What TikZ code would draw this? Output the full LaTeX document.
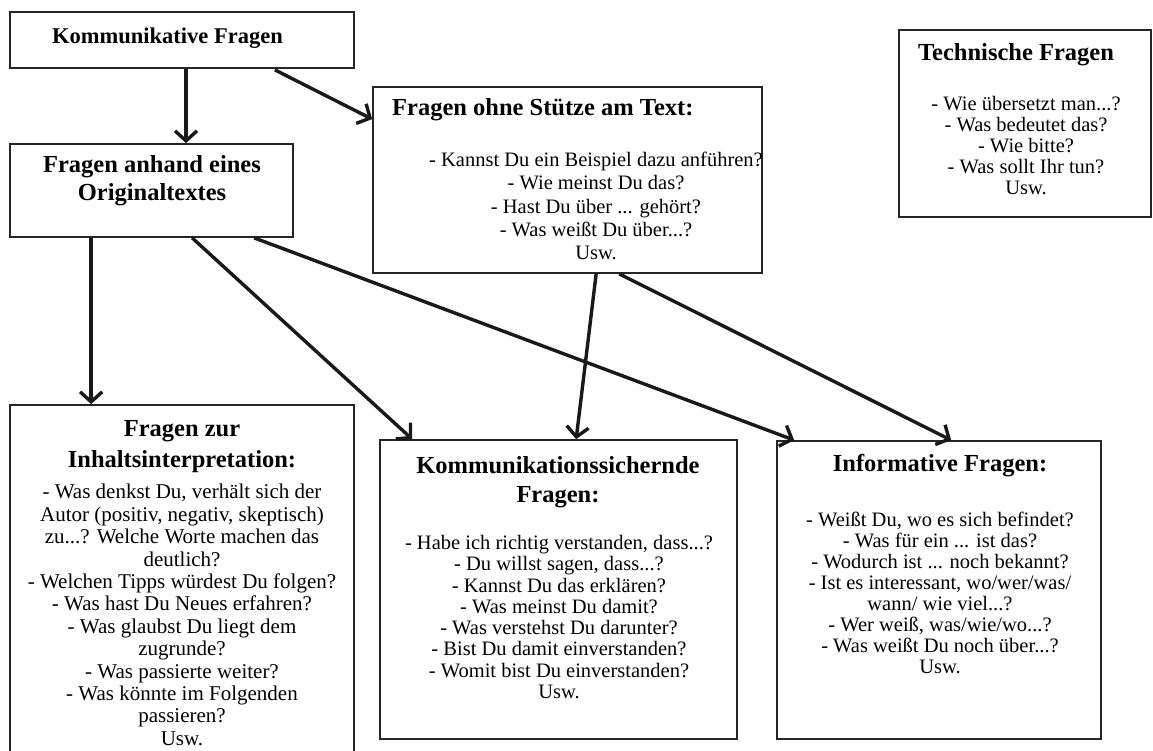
\documentclass[tikz,border=0pt]{standalone}
\usepackage{fontspec}
\setmainfont{Liberation Serif}
\usetikzlibrary{arrows.meta,calc}

\begin{document}
\begin{tikzpicture}[x=1pt,y=-1pt,
    box/.style={draw=black!85, line width=1.7pt, rectangle, inner sep=0pt},
    head/.style={font=\fontsize{24.5}{28}\selectfont\bfseries, align=center, inner sep=0pt},
    body/.style={font=\fontsize{20.5}{21.3}\selectfont, align=center, inner sep=0pt},
    arr/.style={line width=3.4pt, black!90, -{Straight Barb[length=10pt,width=22pt]}}]
    \useasboundingbox (0,0) rectangle (1153,751);

    % Boxes
    \node[box, minimum width=344pt, minimum height=56pt] (komm) at (182,40) {};
    \node[box, minimum width=283pt, minimum height=93pt] (orig) at (151.5,190.5) {};
    \node[box, minimum width=389pt, minimum height=186pt] (ohne) at (567.5,180) {};
    \node[box, minimum width=252pt, minimum height=187pt] (tech) at (1025,123.5) {};
    \node[box, minimum width=344pt, minimum height=349pt] (inhalt) at (182,579.5) {};
    \node[box, minimum width=357pt, minimum height=299pt] (sicher) at (558.5,589.5) {};
    \node[box, minimum width=324pt, minimum height=298pt] (info) at (939,590) {};

    % Headings
    \node[head, font=\fontsize{22.5}{26}\selectfont\bfseries] (komm-t) at (167.5,38) {Kommunikative Fragen};
    \node[head] (orig-t) at (152,181) {Fragen anhand eines\\Originaltextes};
    \node[head, anchor=west] (ohne-t) at (392,110) {Fragen ohne Stütze am Text:};
    \node[head] (tech-t) at (1016,55) {Technische Fragen};
    \node[head, font=\fontsize{24.5}{31}\selectfont\bfseries] (inhalt-t) at (182,447) {Fragen zur\\Inhaltsinterpretation:};
    \node[head, font=\fontsize{24.5}{29}\selectfont\bfseries] (sicher-t) at (558,482) {Kommunikationssichernde\\Fragen:};
    \node[head] (info-t) at (940,466) {Informative Fragen:};

    % Question lists
    \node[body, font=\fontsize{20.5}{23.2}\selectfont] (ohne-b) at (596,206) {- Kannst Du ein Beispiel dazu anführen?\\- Wie meinst Du das?\\- Hast Du über ... gehört?\\- Was weißt Du über...?\\Usw.};
    \node[body, font=\fontsize{20.5}{21}\selectfont] (tech-b) at (1026,146) {- Wie übersetzt man...?\\- Was bedeutet das?\\- Wie bitte?\\- Was sollt Ihr tun?\\Usw.};
    \node[body, font=\fontsize{21}{22.4}\selectfont] (inhalt-b) at (182,615) {- Was denkst Du, verhält sich der\\Autor (positiv, negativ, skeptisch)\\zu...? Welche Worte machen das\\deutlich?\\- Welchen Tipps würdest Du folgen?\\- Was hast Du Neues erfahren?\\- Was glaubst Du liegt dem\\zugrunde?\\- Was passierte weiter?\\- Was könnte im Folgenden\\passieren?\\Usw.};
    \node[body] (sicher-b) at (559,617) {- Habe ich richtig verstanden, dass...?\\- Du willst sagen, dass...?\\- Kannst Du das erklären?\\- Was meinst Du damit?\\- Was verstehst Du darunter?\\- Bist Du damit einverstanden?\\- Womit bist Du einverstanden?\\Usw.};
    \node[body, font=\fontsize{20.5}{21}\selectfont] (info-b) at (940,593) {- Weißt Du, wo es sich befindet?\\- Was für ein ... ist das?\\- Wodurch ist ... noch bekannt?\\- Ist es interessant, wo/wer/was/\\wann/ wie viel...?\\- Wer weiß, was/wie/wo...?\\- Was weißt Du noch über...?\\Usw.};

    % Arrows
    \draw[arr] ($(komm.south)+(4,0)$) -- ($(orig.north)+(34.5,0)$);
    \draw[arr] ($(komm.south east)+(-80,1)$) -- ($(ohne.north west)+(0,33)$);
    \foreach \src/\dx/\dst/\ex in {orig/82/inhalt/82, orig/183/sicher/33, orig/245/info/18,
                                   ohne/224/sicher/197, ohne/247/info/175} {
        \draw[arr] ($(\src.south west)+(\dx,0)$) -- ($(\dst.north west)+(\ex,0)$);
      }
  \end{tikzpicture}
\end{document}
